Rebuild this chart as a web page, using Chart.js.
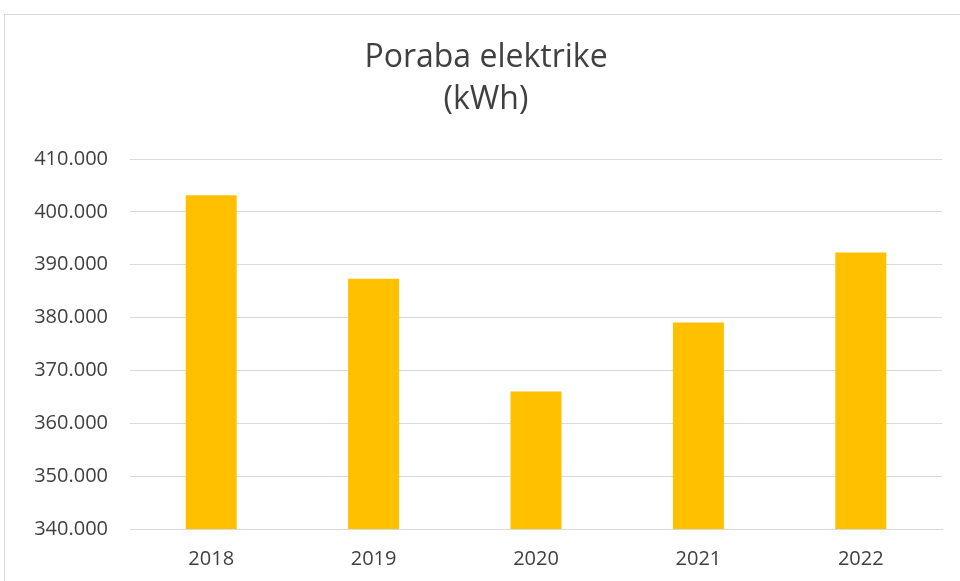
<!DOCTYPE html>
<html>
<head>
<meta charset="utf-8">
<script src="https://cdn.jsdelivr.net/npm/chart.js@4"></script>
<style>
  html, body { margin: 0; padding: 0; background: #fff; }
  #wrap { position: relative; width: 960px; height: 581px; overflow: hidden; }
  #frame { position: absolute; left: 4px; top: 14px; width: 1000px; height: 600px; border: 1px solid #d9d9d9; }
  #c { position: absolute; left: 0; top: 0; }
</style>
</head>
<body>
<div id="wrap">
  <div id="frame"></div>
  <canvas id="c" width="960" height="581"></canvas>
</div>
<script>
const years = ['2018', '2019', '2020', '2021', '2022'];
const consumption = [403160, 387350, 366000, 379050, 392300];
const titleLines = ['Poraba elektrike', '(kWh)'];
const yMin = 340000;
const yMax = 410000;
const yStep = 10000;

// pike kot ločilo tisočic
function fmt(v) {
  return String(Math.round(v)).replace(/\B(?=(\d{3})+(?!\d))/g, '.');
}

const textColor = '#404040';
const font = "'Open Sans', 'Noto Sans', sans-serif";

new Chart(document.getElementById('c').getContext('2d'), {
  type: 'bar',
  data: {
    labels: years,
    datasets: [{
      data: consumption,
      backgroundColor: '#FFC000',
      categoryPercentage: 1,
      barPercentage: 0.314
    }]
  },
  options: {
    responsive: false,
    animation: false,
    layout: { padding: { left: 30, right: 18, top: 0, bottom: 10 } },
    plugins: {
      legend: { display: false },
      tooltip: { enabled: false },
      title: {
        display: true,
        text: titleLines,
        color: textColor,
        font: { family: font, size: 32, weight: 'normal', lineHeight: 1.3125 },
        padding: { top: 37, bottom: 38 }
      }
    },
    scales: {
      x: {
        afterFit: s => { s.height = 42; },
        grid: { display: false, drawTicks: false },
        border: { display: true, color: '#d9d9d9' },
        ticks: { color: textColor, font: { family: font, size: 20 }, padding: 18 }
      },
      y: {
        min: yMin,
        max: yMax,
        afterFit: s => { s.width = 100; },
        grid: { color: '#d9d9d9', drawTicks: false },
        border: { display: false },
        ticks: {
          stepSize: yStep,
          color: textColor,
          font: { family: font, size: 20 },
          padding: 22,
          callback: v => fmt(v)
        }
      }
    }
  }
});
</script>
</body>
</html>
